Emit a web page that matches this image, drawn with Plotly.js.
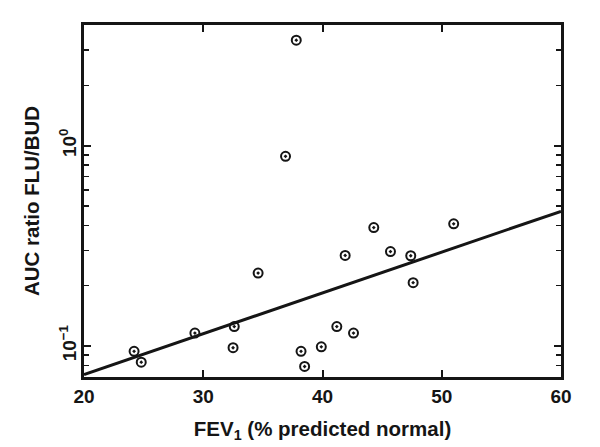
<!DOCTYPE html>
<html>
<head>
<meta charset="utf-8">
<script src="https://cdn.plot.ly/plotly-3.0.1.min.js"></script>
<style>html,body{margin:0;padding:0;background:#fff;}#chart{width:600px;height:447px;}</style>
</head>
<body>
<div id="chart"></div>
<script>
// FEV1 (% predicted normal)
var fev1 = [37.8, 36.9, 34.6, 44.3, 51.0, 41.9, 45.7, 47.4, 47.6,
            24.2, 24.8, 29.3, 32.6, 32.5, 38.2, 38.5, 39.9, 41.2, 42.6];
// AUC ratio FLU/BUD
var aucRatio = [3.36, 0.884, 0.231, 0.390, 0.407, 0.283, 0.296, 0.282, 0.207,
                0.094, 0.083, 0.116, 0.125, 0.098, 0.094, 0.079, 0.099, 0.125, 0.116];
// regression line end points
var fitX = [20, 60];
var fitY = [0.072, 0.47];
// tick labels
var xTickVals = [20, 30, 40, 50, 60];
var xTickText = ['20', '30', '40', '50', '60'];
var yTickVals = [0.1, 1];
var yTickText = ['10<sup>\u22121</sup>', '10<sup>0</sup>'];

var ink = '#151515';
var tickFont = {family: 'Liberation Sans, Arial, sans-serif', size: 19, color: ink, weight: 'bold'};
var titleFont = {family: 'Liberation Sans, Arial, sans-serif', size: 20.5, color: ink, weight: 'bold'};

var traces = [
  {x: fitX, y: fitY, type: 'scatter', mode: 'lines',
   line: {color: ink, width: 3}, hoverinfo: 'skip', showlegend: false},
  {x: fev1, y: aucRatio, type: 'scatter', mode: 'markers',
   marker: {symbol: 'circle-open-dot', size: 9, color: ink, line: {color: ink, width: 2}},
   showlegend: false}
];

var layout = {
  width: 600, height: 447,
  margin: {l: 84, r: 39, t: 25, b: 70},
  paper_bgcolor: '#fff', plot_bgcolor: '#fff',
  font: tickFont,
  showlegend: false,
  xaxis: {
    range: [20, 60], tickmode: 'array', tickvals: xTickVals, ticktext: xTickText,
    ticks: 'inside', ticklen: 7, tickwidth: 2, tickcolor: ink,
    showline: true, linewidth: 3, linecolor: ink, mirror: 'allticks',
    showgrid: false, zeroline: false,
    tickfont: tickFont,
    title: {text: 'FEV<sub>1</sub> (% predicted normal)', font: titleFont, standoff: 16}
  },
  yaxis: {
    type: 'log', range: [Math.log10(0.07), Math.log10(4)],
    tickmode: 'array', tickvals: yTickVals, ticktext: yTickText,
    ticks: 'inside', ticklen: 7, tickwidth: 2, tickcolor: ink, tickangle: -90,
    ticklabelstandoff: -3,
    showline: true, linewidth: 3, linecolor: ink, mirror: 'allticks',
    showgrid: false, zeroline: false,
    minor: {ticks: 'inside', ticklen: 5, tickwidth: 1.5, tickcolor: ink, dtick: 'D1', showgrid: false},
    tickfont: tickFont,
    title: {text: 'AUC ratio FLU/BUD', font: titleFont, standoff: 12}
  }
};

Plotly.newPlot('chart', traces, layout, {displayModeBar: false, staticPlot: true});
</script>
</body>
</html>
